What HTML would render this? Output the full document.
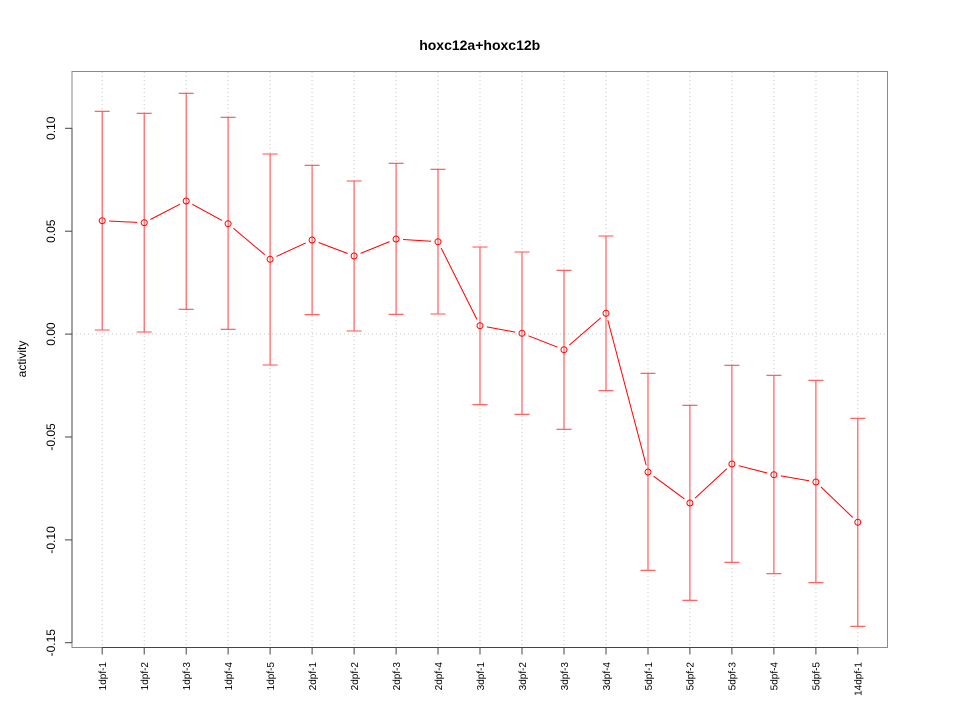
<!DOCTYPE html>
<html>
<head>
<meta charset="utf-8">
<style>
html,body{margin:0;padding:0;background:#fff;}
svg{display:block;}
text{font-family:"Liberation Sans",Arial,sans-serif;fill:#000;}
</style>
</head>
<body>
<svg width="960" height="720" viewBox="0 0 960 720" xmlns="http://www.w3.org/2000/svg">
<rect width="960" height="720" fill="#fff"/>
<!-- grid -->
<g stroke="#c8c8c8" stroke-width="1" stroke-dasharray="1 3" fill="none">
<line x1="102.2" y1="72" x2="102.2" y2="647"/>
<line x1="144.2" y1="72" x2="144.2" y2="647"/>
<line x1="186.2" y1="72" x2="186.2" y2="647"/>
<line x1="228.1" y1="72" x2="228.1" y2="647"/>
<line x1="270.1" y1="72" x2="270.1" y2="647"/>
<line x1="312.1" y1="72" x2="312.1" y2="647"/>
<line x1="354.1" y1="72" x2="354.1" y2="647"/>
<line x1="396.1" y1="72" x2="396.1" y2="647"/>
<line x1="438.0" y1="72" x2="438.0" y2="647"/>
<line x1="480.0" y1="72" x2="480.0" y2="647"/>
<line x1="522.0" y1="72" x2="522.0" y2="647"/>
<line x1="564.0" y1="72" x2="564.0" y2="647"/>
<line x1="606.0" y1="72" x2="606.0" y2="647"/>
<line x1="648.0" y1="72" x2="648.0" y2="647"/>
<line x1="689.9" y1="72" x2="689.9" y2="647"/>
<line x1="731.9" y1="72" x2="731.9" y2="647"/>
<line x1="773.9" y1="72" x2="773.9" y2="647"/>
<line x1="815.9" y1="72" x2="815.9" y2="647"/>
<line x1="857.8" y1="72" x2="857.8" y2="647"/>
<line x1="72" y1="334" x2="887" y2="334"/>
</g>
<!-- error bars -->
<g stroke="#ff5050" stroke-width="1.1" fill="none">
<path d="M102.2 111.3V330M94.7 111.3H109.7M94.7 330H109.7"/>
<path d="M144.2 113.3V332M136.7 113.3H151.7M136.7 332H151.7"/>
<path d="M186.2 93.3V309.3M178.7 93.3H193.7M178.7 309.3H193.7"/>
<path d="M228.1 117.3V329.3M220.6 117.3H235.6M220.6 329.3H235.6"/>
<path d="M270.1 154V365M262.6 154H277.6M262.6 365H277.6"/>
<path d="M312.1 165.3V314.7M304.6 165.3H319.6M304.6 314.7H319.6"/>
<path d="M354.1 181V331M346.6 181H361.6M346.6 331H361.6"/>
<path d="M396.1 163.3V314.3M388.6 163.3H403.6M388.6 314.3H403.6"/>
<path d="M438.0 169.3V314M430.5 169.3H445.5M430.5 314H445.5"/>
<path d="M480.0 247V404.7M472.5 247H487.5M472.5 404.7H487.5"/>
<path d="M522.0 252V414.3M514.5 252H529.5M514.5 414.3H529.5"/>
<path d="M564.0 270.3V429.3M556.5 270.3H571.5M556.5 429.3H571.5"/>
<path d="M606.0 236V390.7M598.5 236H613.5M598.5 390.7H613.5"/>
<path d="M648.0 373.3V570.3M640.5 373.3H655.5M640.5 570.3H655.5"/>
<path d="M689.9 405.3V600.3M682.4 405.3H697.4M682.4 600.3H697.4"/>
<path d="M731.9 365.3V562.3M724.4 365.3H739.4M724.4 562.3H739.4"/>
<path d="M773.9 375.3V573.7M766.4 375.3H781.4M766.4 573.7H781.4"/>
<path d="M815.9 380.3V582.7M808.4 380.3H823.4M808.4 582.7H823.4"/>
<path d="M857.8 418.3V626.3M850.3 418.3H865.3M850.3 626.3H865.3"/>
</g>
<!-- connecting line segments -->
<g stroke="#ff0000" stroke-width="1" fill="none">
<line x1="109.2" y1="221.0" x2="137.2" y2="222.4"/>
<line x1="150.4" y1="219.5" x2="180.0" y2="204.2"/>
<line x1="192.4" y1="204.3" x2="221.9" y2="220.4"/>
<line x1="233.4" y1="228.2" x2="264.8" y2="254.8"/>
<line x1="276.5" y1="256.4" x2="305.7" y2="242.9"/>
<line x1="318.6" y1="242.5" x2="347.6" y2="253.5"/>
<line x1="360.6" y1="253.4" x2="389.6" y2="241.6"/>
<line x1="403.1" y1="239.45" x2="431.0" y2="241.25"/>
<line x1="441.1" y1="248.0" x2="476.9" y2="319.4"/>
<line x1="486.9" y1="326.9" x2="515.1" y2="332.1"/>
<line x1="528.5" y1="335.8" x2="557.5" y2="347.2"/>
<line x1="569.3" y1="345.1" x2="600.7" y2="317.9"/>
<line x1="607.8" y1="320.1" x2="646.2" y2="465.2"/>
<line x1="653.6" y1="476.2" x2="684.3" y2="498.8"/>
<line x1="695.0" y1="498.2" x2="726.8" y2="468.8"/>
<line x1="738.7" y1="465.7" x2="767.1" y2="473.0"/>
<line x1="780.8" y1="475.9" x2="809.0" y2="480.8"/>
<line x1="820.9" y1="486.9" x2="852.8" y2="517.5"/>
</g>
<!-- points -->
<g stroke="#ff0000" stroke-width="1" fill="none">
<circle cx="102.2" cy="220.7" r="3"/>
<circle cx="144.2" cy="222.7" r="3"/>
<circle cx="186.2" cy="201" r="3"/>
<circle cx="228.1" cy="223.7" r="3"/>
<circle cx="270.1" cy="259.3" r="3"/>
<circle cx="312.1" cy="240" r="3"/>
<circle cx="354.1" cy="256" r="3"/>
<circle cx="396.1" cy="239" r="3"/>
<circle cx="438.0" cy="241.7" r="3"/>
<circle cx="480.0" cy="325.7" r="3"/>
<circle cx="522.0" cy="333.3" r="3"/>
<circle cx="564.0" cy="349.7" r="3"/>
<circle cx="606.0" cy="313.3" r="3"/>
<circle cx="648.0" cy="472" r="3"/>
<circle cx="689.9" cy="503" r="3"/>
<circle cx="731.9" cy="464" r="3"/>
<circle cx="773.9" cy="474.7" r="3"/>
<circle cx="815.9" cy="482" r="3"/>
<circle cx="857.8" cy="522.3" r="3"/>
</g>
<!-- box -->
<rect x="72" y="71.5" width="815.5" height="576" fill="none" stroke="#8a8a8a" stroke-width="1"/>
<!-- axes -->
<g stroke="#444" stroke-width="1" fill="none">
<line x1="72" y1="128.3" x2="72" y2="642.7"/>
<line x1="65" y1="128.3" x2="72" y2="128.3"/>
<line x1="65" y1="231.2" x2="72" y2="231.2"/>
<line x1="65" y1="334.1" x2="72" y2="334.1"/>
<line x1="65" y1="437" x2="72" y2="437"/>
<line x1="65" y1="539.9" x2="72" y2="539.9"/>
<line x1="65" y1="642.7" x2="72" y2="642.7"/>
<line x1="102.2" y1="647.5" x2="857.8" y2="647.5"/>
<path d="M102.2 647.5V654.5M144.2 647.5V654.5M186.2 647.5V654.5M228.1 647.5V654.5M270.1 647.5V654.5M312.1 647.5V654.5M354.1 647.5V654.5M396.1 647.5V654.5M438.0 647.5V654.5M480.0 647.5V654.5M522.0 647.5V654.5M564.0 647.5V654.5M606.0 647.5V654.5M648.0 647.5V654.5M689.9 647.5V654.5M731.9 647.5V654.5M773.9 647.5V654.5M815.9 647.5V654.5M857.8 647.5V654.5"/>
</g>
<!-- y tick labels -->
<g font-size="12" text-anchor="middle">
<text transform="translate(55,128.3) rotate(-90)">0.10</text>
<text transform="translate(55,231.2) rotate(-90)">0.05</text>
<text transform="translate(55,334.1) rotate(-90)">0.00</text>
<text transform="translate(55,437) rotate(-90)">-0.05</text>
<text transform="translate(55,539.9) rotate(-90)">-0.10</text>
<text transform="translate(55,642.7) rotate(-90)">-0.15</text>
</g>
<!-- x tick labels -->
<g font-size="10" text-anchor="end">
<text transform="translate(106,662) rotate(-90)">1dpf-1</text>
<text transform="translate(148,662) rotate(-90)">1dpf-2</text>
<text transform="translate(190,662) rotate(-90)">1dpf-3</text>
<text transform="translate(231.9,662) rotate(-90)">1dpf-4</text>
<text transform="translate(273.9,662) rotate(-90)">1dpf-5</text>
<text transform="translate(315.9,662) rotate(-90)">2dpf-1</text>
<text transform="translate(357.9,662) rotate(-90)">2dpf-2</text>
<text transform="translate(399.9,662) rotate(-90)">2dpf-3</text>
<text transform="translate(441.8,662) rotate(-90)">2dpf-4</text>
<text transform="translate(483.8,662) rotate(-90)">3dpf-1</text>
<text transform="translate(525.8,662) rotate(-90)">3dpf-2</text>
<text transform="translate(567.8,662) rotate(-90)">3dpf-3</text>
<text transform="translate(609.8,662) rotate(-90)">3dpf-4</text>
<text transform="translate(651.8,662) rotate(-90)">5dpf-1</text>
<text transform="translate(693.7,662) rotate(-90)">5dpf-2</text>
<text transform="translate(735.7,662) rotate(-90)">5dpf-3</text>
<text transform="translate(777.7,662) rotate(-90)">5dpf-4</text>
<text transform="translate(819.7,662) rotate(-90)">5dpf-5</text>
<text transform="translate(861.6,662) rotate(-90)">14dpf-1</text>
</g>
<!-- axis label -->
<text transform="translate(26,359) rotate(-90)" font-size="12" text-anchor="middle">activity</text>
<!-- title -->
<text x="479.7" y="50" font-size="14" font-weight="bold" text-anchor="middle">hoxc12a+hoxc12b</text>
</svg>
</body>
</html>
